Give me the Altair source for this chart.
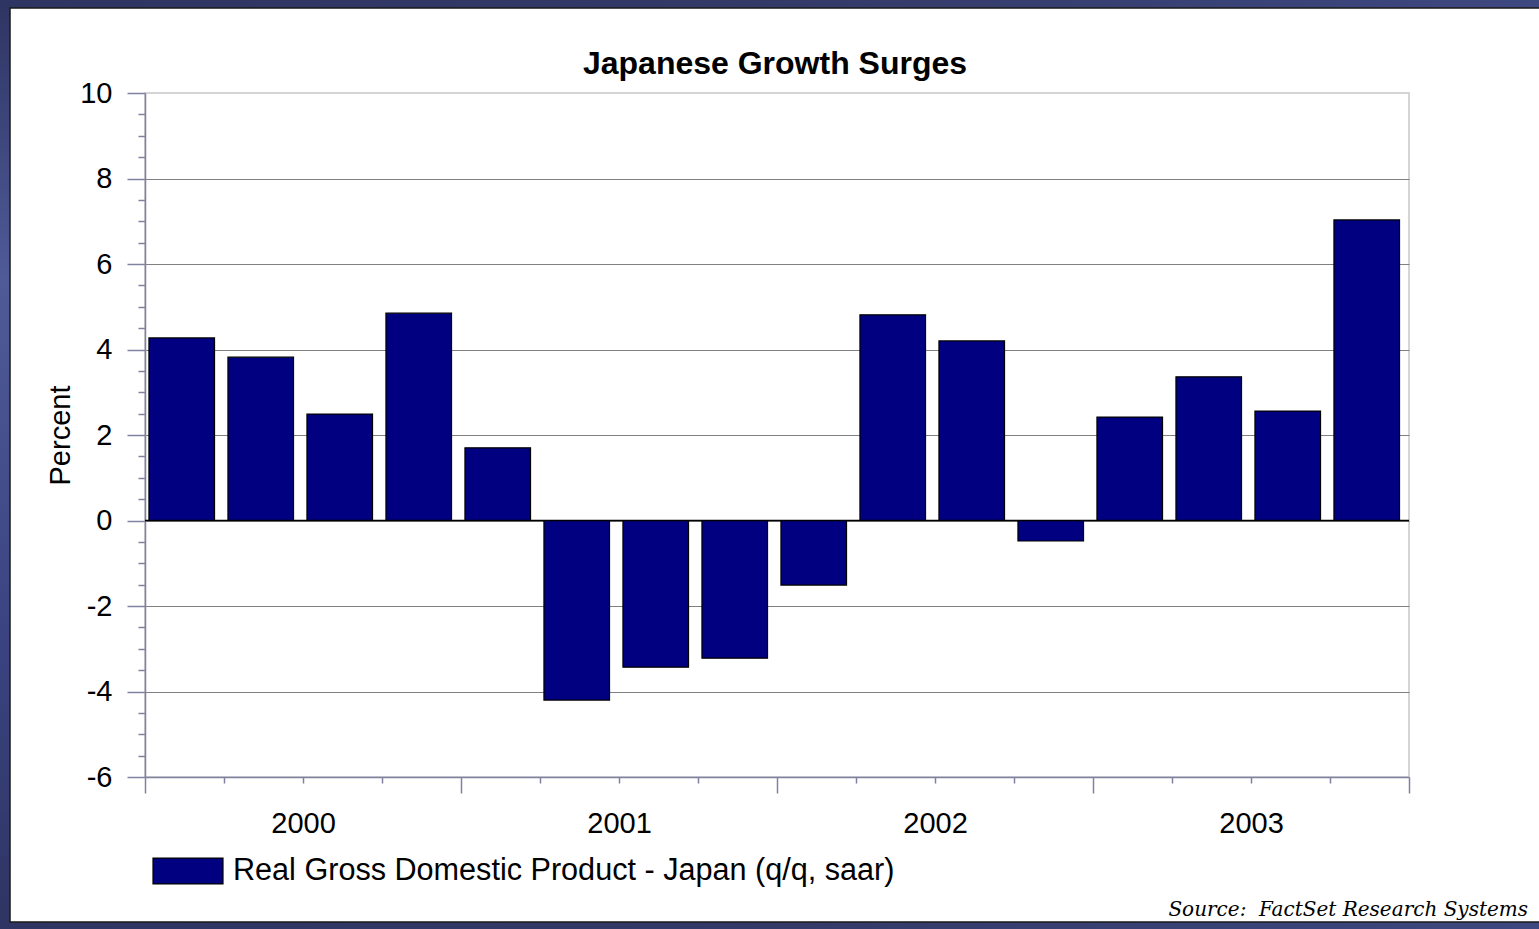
import altair as alt
import pandas as pd

quarters = ["2000Q1", "2000Q2", "2000Q3", "2000Q4",
            "2001Q1", "2001Q2", "2001Q3", "2001Q4",
            "2002Q1", "2002Q2", "2002Q3", "2002Q4",
            "2003Q1", "2003Q2", "2003Q3", "2003Q4"]
gdp = [4.27, 3.82, 2.49, 4.85, 1.70, -4.20, -3.43, -3.22,
       -1.51, 4.81, 4.20, -0.48, 2.42, 3.36, 2.56, 7.03]
years = ["2000", "2001", "2002", "2003"]
series_name = "Real Gross Domestic Product - Japan (q/q, saar)"
chart_title = "Japanese Growth Surges"
source_text = "Source:\u00a0 FactSet Research Systems"

df = pd.DataFrame({"quarter": quarters, "gdp": gdp})
df["idx"] = range(len(df))
df["series"] = series_name

W, H = 1264, 684
PL, PT, PR, PB = 145, 93, 130, 152
AXIS_COLOR = "#8080a0"
FONT = "Liberation Sans"

year_arr = "[" + ",".join("'%s'" % y for y in years) + "]"

x_axis = alt.Axis(
    values=list(range(0, 17)),
    tickCount=100,
    tickSize={"condition": {"test": "datum.value % 4 == 0", "value": 16}, "value": 6},
    tickColor=AXIS_COLOR,
    domainColor=AXIS_COLOR,
    labelExpr=f"datum.value % 4 == 2 ? {year_arr}[(datum.value - 2) / 4] : ''",
    labelFont=FONT, labelFontSize=29, labelColor="#000000",
    labelPadding=26, labelOverlap=False, labelFlush=False,
    grid=False, title=None,
)

y_axis = alt.Axis(
    values=[v / 2 for v in range(-12, 21)],
    tickCount=100,
    tickSize={"condition": {"test": "datum.value % 2 == 0", "value": 18}, "value": 7},
    tickColor=AXIS_COLOR,
    domainColor=AXIS_COLOR,
    labelExpr="datum.value % 2 == 0 ? '' + datum.value : ''",
    labelFont=FONT, labelFontSize=29, labelColor="#000000",
    labelPadding=15, labelOverlap=False,
    grid=True,
    gridColor={"condition": {"test": "datum.value % 2 == 0 && datum.value < 10 && datum.value > -6",
                             "value": "#808080"}, "value": "transparent"},
    gridWidth=1.2,
    title="Percent", titleFont=FONT, titleFontSize=29, titleFontWeight="normal",
    titleColor="#000000", titlePadding=4,
)

base = alt.Chart(df)
one = "datum.idx == 0"

left_grad = {"gradient": "linear", "x1": 0, "y1": 0, "x2": 0, "y2": 1,
             "stops": [{"offset": 0, "color": "#2e3562"},
                       {"offset": 0.3, "color": "#4f5a98"},
                       {"offset": 0.7, "color": "#3a4380"},
                       {"offset": 1, "color": "#2e3562"}]}
top_grad = {"gradient": "linear", "x1": 0, "y1": 0, "x2": 1, "y2": 0,
            "stops": [{"offset": 0, "color": "#2e3562"},
                      {"offset": 0.5, "color": "#333a68"},
                      {"offset": 1, "color": "#3e4880"}]}

frame_left = base.mark_rect(fill=left_grad, clip=False).encode(
    x=alt.value(-PL), x2=alt.value(-PL + 10), y=alt.value(-PT), y2=alt.value(H + PB)
).transform_filter(one)
frame_top = base.mark_rect(fill=top_grad, clip=False).encode(
    x=alt.value(-PL), x2=alt.value(W + PR), y=alt.value(-PT), y2=alt.value(-PT + 8)
).transform_filter(one)
frame_bottom = base.mark_rect(fill=top_grad, clip=False).encode(
    x=alt.value(-PL), x2=alt.value(W + PR), y=alt.value(H + PB - 7), y2=alt.value(H + PB)
).transform_filter(one)
edge = base.mark_rect(fill="transparent", stroke="#1a1a1a", strokeWidth=1.5, clip=False).encode(
    x=alt.value(-PL + 10), x2=alt.value(W + PR + 5), y=alt.value(-PT + 8), y2=alt.value(H + PB - 7)
).transform_filter(one)

bars = base.mark_bar(stroke="#000000", strokeWidth=1.2).transform_calculate(
    x0="datum.idx + 0.05", x1="datum.idx + 0.88"
).encode(
    x=alt.X("x0:Q", scale=alt.Scale(domain=[0, 16], nice=False, zero=False), axis=x_axis),
    x2="x1:Q",
    y=alt.Y("gdp:Q", scale=alt.Scale(domain=[-6, 10], nice=False), axis=y_axis),
    y2=alt.datum(0),
    color=alt.Color(
        "series:N",
        scale=alt.Scale(range=["#000080"]),
        legend=alt.Legend(
            title=None, orient="none", legendX=7, legendY=742,
            symbolType="M-1,-0.37L1,-0.37L1,0.37L-1,0.37Z", symbolSize=4900,
            symbolStrokeColor="#000000", symbolStrokeWidth=1.2, symbolOpacity=1,
            labelFont=FONT, labelFontSize=30.6, labelColor="#000000",
            labelOffset=9, labelLimit=1000,
        ),
    ),
)

zero = base.mark_rule(color="#000000", strokeWidth=1.5).encode(
    y=alt.datum(0)
).transform_filter(one)

title = base.mark_text(
    text=chart_title, font=FONT, fontWeight="bold", fontSize=32,
    align="center", baseline="alphabetic", color="#000000", clip=False,
).encode(x=alt.value(W / 2 - 2), y=alt.value(-19)).transform_filter(one)

source = base.mark_text(
    text=source_text, font="DejaVu Serif", fontStyle="italic",
    fontSize=20, align="right", baseline="alphabetic", color="#000000", clip=False,
).encode(x=alt.value(1383), y=alt.value(823)).transform_filter(one)

chart = alt.layer(frame_left, frame_top, frame_bottom, edge, bars, zero, title, source).properties(
    width=W, height=H,
    background="white",
    padding={"left": PL, "top": PT, "right": PR, "bottom": PB},
    autosize=alt.AutoSizeParams(type="none"),
).configure_view(stroke="#c8c8c8", strokeWidth=1.5).configure_axis(domainWidth=1.5, tickWidth=1.5)

chart.save("out.html", embed_options={"renderer": "svg", "actions": False})
